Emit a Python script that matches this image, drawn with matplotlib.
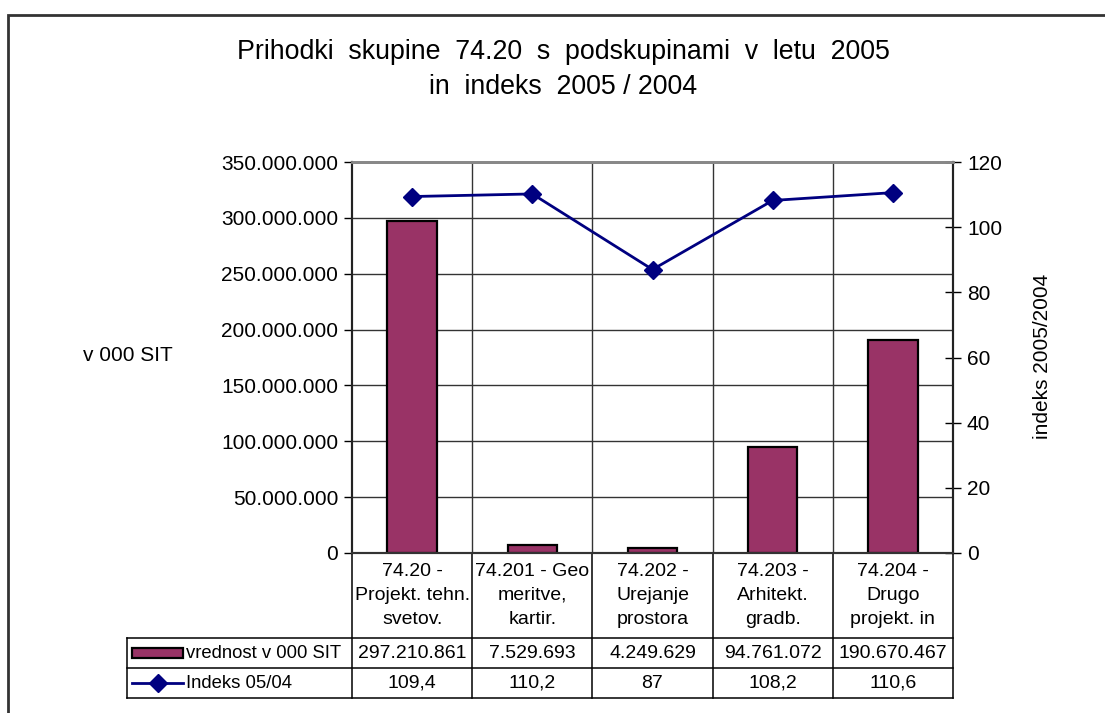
import numpy as np
import matplotlib.pyplot as plt
from matplotlib.patches import Rectangle
from matplotlib.lines import Line2D
import matplotlib.transforms as mtransforms

plt.rcParams['font.family'] = ['Liberation Sans', 'DejaVu Sans']

# data
categories = [
    "74.20 -\nProjekt. tehn.\nsvetov.",
    "74.201 - Geo\nmeritve,\nkartir.",
    "74.202 -\nUrejanje\nprostora",
    "74.203 -\nArhitekt.\ngradb.",
    "74.204 -\nDrugo\nprojekt. in",
]
vrednost = [297210861, 7529693, 4249629, 94761072, 190670467]
indeks = [109.4, 110.2, 87, 108.2, 110.6]
left_ticks = [0, 50000000, 100000000, 150000000, 200000000, 250000000, 300000000, 350000000]
right_ticks = [0, 20, 40, 60, 80, 100, 120]

bar_color = '#993366'
line_color = '#000080'
fs = 14
fs_ax = 15


def fmt_thousands(v):
    return f"{int(v):,}".replace(",", ".")


def fmt_index(v):
    return str(int(v)) if float(v).is_integer() else str(v).replace(".", ",")


fig = plt.figure(figsize=(11.05, 7.13), dpi=100)
W, H = 1105, 713
L, R, T, B = 352, 953, 162, 553
ax = fig.add_axes([L / W, 1 - B / H, (R - L) / W, (B - T) / H])
ax2 = ax.twinx()

x = np.arange(len(categories))
ax.bar(x, vrednost, width=0.41, color=bar_color, edgecolor='black', linewidth=1.6, zorder=3)
ax.set_xlim(-0.5, len(categories) - 0.5)
ax.set_ylim(0, 350000000)
ax.set_yticks(left_ticks)
ax.set_yticklabels([fmt_thousands(v) for v in left_ticks], fontsize=fs_ax)
ax.set_xticks([])
ax.tick_params(axis='y', direction='out', length=6, width=1, pad=4)

# grid
for v in left_ticks[1:]:
    ax.axhline(v, color='#333333', linewidth=1, zorder=1)
for b in np.arange(0.5, len(categories) - 0.5, 1):
    ax.axvline(b, color='#333333', linewidth=1, zorder=1)

ax2.plot(x, indeks, color=line_color, linewidth=2, marker='D', markersize=9, zorder=4)
ax2.set_ylim(0, 120)
ax2.set_yticks(right_ticks)
ax2.set_yticklabels([str(v) for v in right_ticks], fontsize=fs_ax)
ax2.tick_params(axis='y', direction='inout', length=12, width=1, pad=4)

for a in (ax, ax2):
    a.spines['top'].set_color('#888888')
    a.spines['top'].set_linewidth(2)
    a.spines['bottom'].set_color('#333333')
    a.spines['bottom'].set_linewidth(1.5)
    a.spines['left'].set_color('#222222')
    a.spines['right'].set_color('#222222')
    a.spines['left'].set_linewidth(1.5)
    a.spines['right'].set_linewidth(1.5)

ax.set_zorder(ax2.get_zorder() - 1)
ax.patch.set_visible(True)
ax2.patch.set_visible(False)

# axis titles
fig.text(128 / W, 1 - 355 / H, "v 000 SIT", fontsize=fs_ax, ha='center', va='center')
fig.text(1042 / W, 1 - 356 / H, "indeks 2005/2004", fontsize=fs_ax, ha='center', va='center', rotation=90)

# title
fig.text(563 / W, 1 - 52 / H, "Prihodki  skupine  74.20  s  podskupinami  v  letu  2005",
         fontsize=19.3, ha='center', va='center')
fig.text(563 / W, 1 - 87 / H, "in  indeks  2005 / 2004", fontsize=19.3, ha='center', va='center')

# data table below the plot
ph = B - T
trans = mtransforms.blended_transform_factory(ax.transData, ax.transAxes)
y_cat = -(638 - B) / ph
y_r1 = -(668 - B) / ph
y_r2 = -(698 - B) / ph
x_leg = (127 - L) / (R - L)
line_kw = dict(color='black', linewidth=1.1, clip_on=False)

for b in np.arange(-0.5, len(categories), 1):
    ax.add_line(Line2D([b, b], [0, y_r2], transform=trans, **line_kw))
for yy in (y_cat, y_r1, y_r2):
    ax.add_line(Line2D([x_leg, 1], [yy, yy], transform=ax.transAxes, **line_kw))
ax.add_line(Line2D([x_leg, x_leg], [y_cat, y_r2], transform=ax.transAxes, **line_kw))

for i, c in enumerate(categories):
    ax.text(i, y_cat / 2, c, transform=trans, ha='center', va='center', fontsize=fs, linespacing=1.5)
    ax.text(i, (y_cat + y_r1) / 2, fmt_thousands(vrednost[i]), transform=trans,
            ha='center', va='center', fontsize=fs)
    ax.text(i, (y_r1 + y_r2) / 2, fmt_index(indeks[i]), transform=trans,
            ha='center', va='center', fontsize=fs)

# legend keys in the table
kx0 = (132 - L) / (R - L)
kx1 = (183 - L) / (R - L)
ym1 = (y_cat + y_r1) / 2
ym2 = (y_r1 + y_r2) / 2
kh = 10 / ph
ax.add_patch(Rectangle((kx0, ym1 - kh / 2), kx1 - kx0, kh, transform=ax.transAxes,
                       facecolor=bar_color, edgecolor='black', linewidth=1.6, clip_on=False))
ax.add_line(Line2D([kx0, kx1], [ym2, ym2], transform=ax.transAxes, color=line_color,
                   linewidth=2, clip_on=False))
ax.add_line(Line2D([(kx0 + kx1) / 2], [ym2], transform=ax.transAxes, color=line_color,
                   marker='D', markersize=9, clip_on=False))
ax.text((186 - L) / (R - L), ym1, "vrednost v 000 SIT", transform=ax.transAxes,
        ha='left', va='center', fontsize=13.3)
ax.text((186 - L) / (R - L), ym2, "Indeks 05/04", transform=ax.transAxes,
        ha='left', va='center', fontsize=13.3)

# chart border
fig.patches.append(Rectangle((8 / W, -0.1), 1.2, 1.1 - 15 / H, transform=fig.transFigure,
                             fill=False, edgecolor='#333333', linewidth=2))

fig.savefig('out.png', dpi=100)
